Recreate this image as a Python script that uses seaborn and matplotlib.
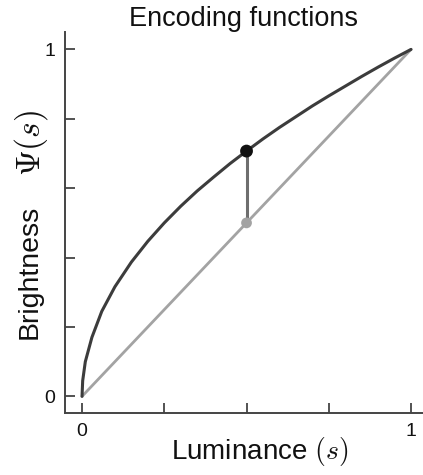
import matplotlib
matplotlib.use("Agg")
import matplotlib.pyplot as plt
import seaborn as sns
import pandas as pd

# Luminance samples and the compressive encoding curve Psi(s)
luminance = [0, 0.002, 0.01, 0.03, 0.06, 0.1, 0.15, 0.2, 0.25, 0.3, 0.35, 0.4,
             0.45, 0.5, 0.55, 0.6, 0.65, 0.7, 0.75, 0.8, 0.85, 0.9, 0.95, 1.0]
brightness = [0, 0.045, 0.10, 0.17, 0.245, 0.316, 0.387, 0.447, 0.5, 0.548,
              0.592, 0.632, 0.671, 0.707, 0.742, 0.775, 0.806, 0.837, 0.866,
              0.894, 0.922, 0.949, 0.975, 1.0]
# Linear (identity) encoding
linear_s = [0, 1]
linear_v = [0, 1]
# Highlighted luminance and its two encodings
probe_s = 0.5
probe_curve = 0.707
probe_linear = 0.5

x_ticks = [0, 0.25, 0.5, 0.75, 1]
x_ticklabels = ["0", "", "", "", "1"]
y_ticks = [0, 0.2, 0.4, 0.6, 0.8, 1]
y_ticklabels = ["0", "", "", "", "", "1"]

sns.set_theme(style="ticks")
plt.rcParams["font.family"] = ["Liberation Sans", "DejaVu Sans"]
plt.rcParams["mathtext.fontset"] = "cm"

fig = plt.figure(figsize=(4.23, 4.75), dpi=100)
ax = fig.add_axes([0.1537, 0.1305, 0.8558, 0.802])

curve = pd.DataFrame({"s": luminance, "psi": brightness})
ident = pd.DataFrame({"s": linear_s, "psi": linear_v})

sns.lineplot(data=ident, x="s", y="psi", ax=ax, color="#a3a3a3", lw=2.0,
             estimator=None, sort=False, zorder=2)
sns.lineplot(data=curve, x="s", y="psi", ax=ax, color="#3c3c3c", lw=2.2,
             estimator=None, sort=False, zorder=3)
ax.plot([probe_s, probe_s], [probe_linear, probe_curve], color="#6e6e6e",
        lw=2.2, zorder=4)
sns.scatterplot(x=[probe_s], y=[probe_linear], ax=ax, color="#a3a3a3", s=60,
                edgecolor="none", zorder=5)
sns.scatterplot(x=[probe_s], y=[probe_curve], ax=ax, color="#111111", s=85,
                edgecolor="none", zorder=6)

ax.set_xlim(-0.0517, 1.0486)
ax.set_ylim(-0.048, 1.05)
ax.set_xticks(x_ticks)
ax.set_xticklabels(x_ticklabels)
ax.set_yticks(y_ticks)
ax.set_yticklabels(y_ticklabels)
ax.tick_params(direction="in", length=7, width=1.3, color="#444444",
               labelsize=14, labelcolor="#111111", pad=7)
for side in ["left", "bottom"]:
    ax.spines[side].set_color("#444444")
    ax.spines[side].set_linewidth(1.4)
sns.despine(ax=ax)

ax.set_xlabel("Luminance $(s)$", fontsize=20, color="#111111")
ax.xaxis.set_label_coords(0.537, -0.058)
ax.set_ylabel("Brightness", fontsize=20.5, color="#111111")
ax.yaxis.set_label_coords(-0.062, 0.371)
fig.text(0.074, 0.699, "$\\Psi(s)$", fontsize=24, color="#111111",
         rotation=90, ha="center", va="center")
ax.set_title("Encoding functions", fontsize=19.5, color="#111111", pad=3,
             x=0.494)

fig.savefig("out.png", dpi=100)
